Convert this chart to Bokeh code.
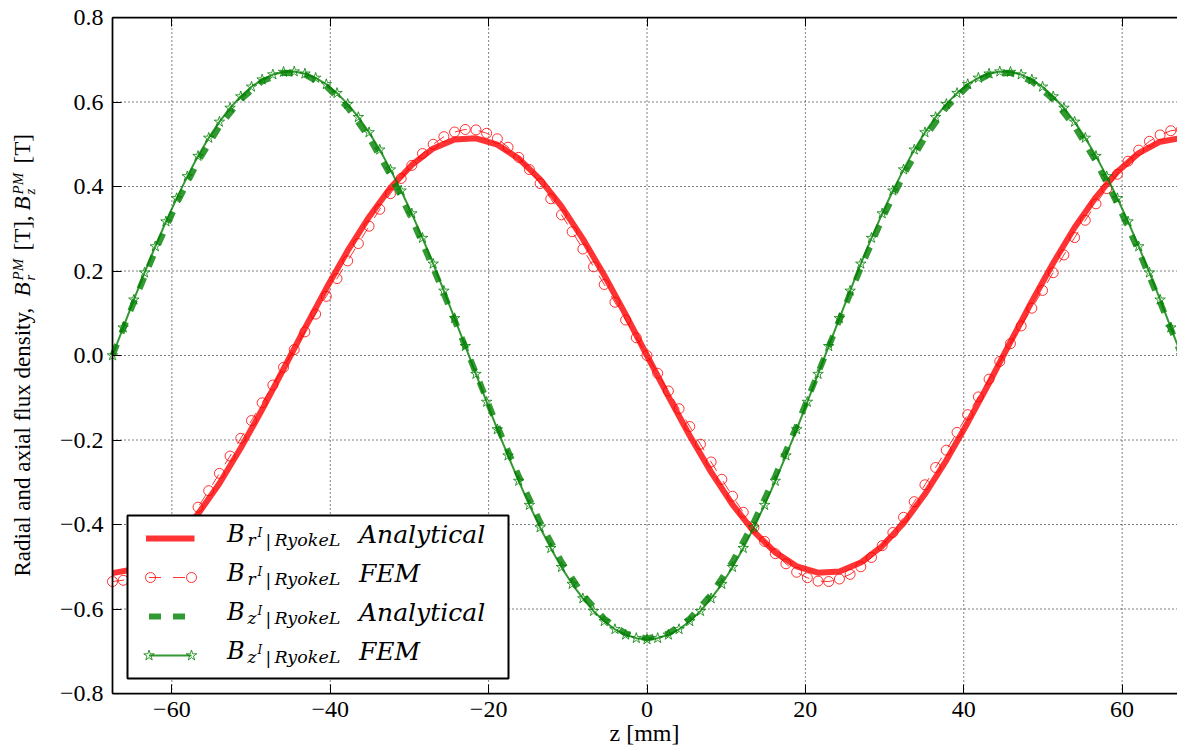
from bokeh.plotting import figure
from bokeh.models import Range1d, FixedTicker, Label, LinearAxis
from bokeh.embed import file_html
from bokeh.resources import INLINE

# ---------------- data ----------------
z_fem = [-67.5, -66.15, -64.8, -63.45, -62.1, -60.75, -59.4, -58.05, -56.7, -55.35,
         -54.0, -52.65, -51.3, -49.95, -48.6, -47.25, -45.9, -44.55, -43.2, -41.85,
         -40.5, -39.15, -37.8, -36.45, -35.1, -33.75, -32.4, -31.05, -29.7, -28.35,
         -27.0, -25.65, -24.3, -22.95, -21.6, -20.25, -18.9, -17.55, -16.2, -14.85,
         -13.5, -12.15, -10.8, -9.45, -8.1, -6.75, -5.4, -4.05, -2.7, -1.35,
         0.0, 1.35, 2.7, 4.05, 5.4, 6.75, 8.1, 9.45, 10.8, 12.15,
         13.5, 14.85, 16.2, 17.55, 18.9, 20.25, 21.6, 22.95, 24.3, 25.65,
         27.0, 28.35, 29.7, 31.05, 32.4, 33.75, 35.1, 36.45, 37.8, 39.15,
         40.5, 41.85, 43.2, 44.55, 45.9, 47.25, 48.6, 49.95, 51.3, 52.65,
         54.0, 55.35, 56.7, 58.05, 59.4, 60.75, 62.1, 63.45, 64.8, 66.15, 67.5]

br_fem = [-0.535, -0.532, -0.522, -0.507, -0.486, -0.460, -0.429, -0.395, -0.359, -0.320,
          -0.279, -0.238, -0.196, -0.154, -0.112, -0.070, -0.028, 0.014, 0.056, 0.098,
          0.140, 0.182, 0.224, 0.265, 0.306, 0.346, 0.383, 0.419, 0.450, 0.478,
          0.500, 0.518, 0.529, 0.535, 0.534, 0.526, 0.513, 0.493, 0.469, 0.440,
          0.407, 0.371, 0.333, 0.293, 0.252, 0.210, 0.168, 0.126, 0.084, 0.042,
          0.000, -0.042, -0.084, -0.126, -0.168, -0.210, -0.252, -0.293, -0.333, -0.371,
          -0.407, -0.440, -0.469, -0.493, -0.513, -0.526, -0.534, -0.535, -0.529, -0.518,
          -0.500, -0.478, -0.450, -0.419, -0.383, -0.346, -0.306, -0.265, -0.224, -0.182,
          -0.140, -0.098, -0.056, -0.014, 0.028, 0.070, 0.112, 0.154, 0.196, 0.238,
          0.279, 0.320, 0.359, 0.395, 0.429, 0.460, 0.486, 0.507, 0.522, 0.532, 0.535]

bz_fem = [0.000, 0.066, 0.132, 0.196, 0.258, 0.317, 0.372, 0.424, 0.472, 0.515,
          0.553, 0.586, 0.613, 0.636, 0.653, 0.665, 0.671, 0.672, 0.667, 0.657,
          0.642, 0.621, 0.595, 0.564, 0.528, 0.487, 0.440, 0.390, 0.336, 0.278,
          0.217, 0.153, 0.088, 0.022, -0.044, -0.110, -0.175, -0.237, -0.297, -0.354,
          -0.407, -0.456, -0.501, -0.541, -0.575, -0.605, -0.629, -0.648, -0.661, -0.669,
          -0.672, -0.669, -0.661, -0.648, -0.629, -0.605, -0.575, -0.541, -0.501, -0.456,
          -0.407, -0.354, -0.297, -0.237, -0.175, -0.110, -0.044, 0.022, 0.088, 0.153,
          0.217, 0.278, 0.336, 0.390, 0.440, 0.487, 0.528, 0.564, 0.595, 0.621,
          0.642, 0.657, 0.667, 0.672, 0.671, 0.665, 0.653, 0.636, 0.613, 0.586,
          0.553, 0.515, 0.472, 0.424, 0.372, 0.317, 0.258, 0.196, 0.132, 0.066, 0.000]

z_an = z_fem[::2]

br_an = [-0.515, -0.506, -0.479, -0.435, -0.375, -0.303, -0.219, -0.128, -0.032, 0.065,
         0.159, 0.248, 0.328, 0.397, 0.451, 0.490, 0.511, 0.514, 0.499, 0.466,
         0.417, 0.353, 0.276, 0.190, 0.097, 0.000, -0.097, -0.190, -0.276, -0.353,
         -0.417, -0.466, -0.499, -0.514, -0.511, -0.490, -0.451, -0.397, -0.328, -0.248,
         -0.159, -0.065, 0.032, 0.128, 0.219, 0.303, 0.375, 0.435, 0.479, 0.506, 0.515]

bz_an = [0.000, 0.126, 0.247, 0.359, 0.459, 0.542, 0.606, 0.649, 0.669, 0.665,
         0.637, 0.587, 0.516, 0.427, 0.323, 0.207, 0.084, -0.042, -0.167, -0.285,
         -0.394, -0.488, -0.566, -0.623, -0.658, -0.670, -0.658, -0.623, -0.566, -0.488,
         -0.394, -0.285, -0.167, -0.042, 0.084, 0.207, 0.323, 0.427, 0.516, 0.587,
         0.637, 0.665, 0.669, 0.649, 0.606, 0.542, 0.459, 0.359, 0.247, 0.126, 0.000]

x_lim = (-67.5, 67.5)
y_lim = (-0.8, 0.8)
x_ticks = [-60, -40, -20, 0, 20, 40, 60]
x_tick_labels = ["\u221260", "\u221240", "\u221220", "0", "20", "40", "60"]
y_ticks = [-0.8, -0.6, -0.4, -0.2, 0.0, 0.2, 0.4, 0.6, 0.8]
y_tick_labels = ["\u22120.8", "\u22120.6", "\u22120.4", "\u22120.2", "0.0", "0.2", "0.4", "0.6", "0.8"]

# ---------------- layout (page pixels) ----------------
W, H = 1177, 748
AL, AR, AT, AB = 112, 1181, 17, 693     # plot-area edges in page px (right edge is cropped)
kx = (AR - AL) / (x_lim[1] - x_lim[0])
ky = (AB - AT) / (y_lim[1] - y_lim[0])

p = figure(width=W, height=H, output_backend="svg", toolbar_location=None,
           x_range=Range1d(x_lim[0] - AL / kx, x_lim[0] + (W - AL) / kx),
           y_range=Range1d(y_lim[0] - (H - AB) / ky, y_lim[1] + AT / ky),
           x_axis_type=None, y_axis_type=None, min_border=0)
p.outline_line_color = None
p.background_fill_color = "white"
p.border_fill_color = "white"
p.xgrid.visible = False
p.ygrid.visible = False
p.extra_x_ranges = {"px": Range1d(0, W)}
p.extra_y_ranges = {"py": Range1d(H, 0)}

# dotted grid, limited to the plot area
p.segment(x0=x_ticks, x1=x_ticks, y0=[y_lim[0]] * len(x_ticks), y1=[y_lim[1]] * len(x_ticks),
          line_color="black", line_dash="1 3", line_width=1)
p.segment(x0=[x_lim[0]] * len(y_ticks), x1=[x_lim[1]] * len(y_ticks), y0=y_ticks, y1=y_ticks,
          line_color="black", line_dash="1 3", line_width=1)

TICK_FONT = "Liberation Serif"


def style_axis(ax, ticks, labels, show_labels=True):
    ax.ticker = FixedTicker(ticks=ticks)
    ax.major_label_overrides = dict(zip(ticks, labels))
    ax.major_tick_in = 9
    ax.major_tick_out = 0
    ax.minor_tick_line_color = None
    ax.axis_line_width = 1.75
    ax.axis_line_color = "black"
    ax.major_tick_line_color = "black"
    ax.major_tick_line_width = 1
    ax.major_label_text_font = TICK_FONT
    ax.major_label_text_font_size = "24px"
    ax.major_label_text_color = "black"
    if not show_labels:
        ax.major_label_text_alpha = 0


xaxis = LinearAxis(fixed_location=y_lim[0], bounds=x_lim, major_label_standoff=8)
style_axis(xaxis, x_ticks, x_tick_labels)
p.add_layout(xaxis, "below")

topaxis = LinearAxis(fixed_location=y_lim[1], bounds=x_lim)
style_axis(topaxis, x_ticks, x_tick_labels, show_labels=False)
p.add_layout(topaxis, "above")

yaxis = LinearAxis(fixed_location=x_lim[0], bounds=y_lim, major_label_standoff=9)
style_axis(yaxis, y_ticks, y_tick_labels)
p.add_layout(yaxis, "left")

RED, GREEN = "red", "green"

# ---------------- series ----------------
p.line(z_an, br_an, line_color=RED, line_alpha=0.8, line_width=6, line_join="round")
p.line(z_fem, br_fem, line_color=RED, line_alpha=0.8, line_width=1, line_dash="12 12")
p.scatter(z_fem, br_fem, marker="circle", size=10, fill_color=None,
          line_color=RED, line_alpha=0.8, line_width=1)
p.line(z_an, bz_an, line_color=GREEN, line_alpha=0.8, line_width=6, line_dash="12 12")
p.line(z_fem, bz_fem, line_color=GREEN, line_alpha=0.8, line_width=2)
p.scatter(z_fem, bz_fem, marker="star", size=11, fill_color=None,
          line_color=GREEN, line_alpha=0.8, line_width=1)

# ---------------- legend (page-pixel coordinates) ----------------
PXR = dict(x_range_name="px", y_range_name="py")
p.quad(left=127, right=508, top=515, bottom=678, fill_color="white",
       line_color="black", line_width=2, **PXR)

rows = [538, 577, 616, 655]
h0, h1 = 148.5, 191
p.line([h0, h1], [rows[0]] * 2, line_color=RED, line_alpha=0.8, line_width=6,
       line_cap="square", **PXR)
p.line([h0, h1], [rows[1]] * 2, line_color=RED, line_alpha=0.8, line_width=1,
       line_dash="12 12", **PXR)
p.scatter([h0 + 1.5, h1], [rows[1]] * 2, marker="circle", size=10, fill_color=None,
          line_color=RED, line_alpha=0.8, **PXR)
p.line([h0, h1], [rows[2]] * 2, line_color=GREEN, line_alpha=0.8, line_width=6,
       line_dash="12 12", **PXR)
p.line([h0, h1], [rows[3]] * 2, line_color=GREEN, line_alpha=0.8, line_width=2, **PXR)
p.scatter([h0, h1], [rows[3]] * 2, marker="star", size=11, fill_color=None,
          line_color=GREEN, line_alpha=0.8, **PXR)

BASE_SHIFT = 0.38   # measured offset of the rendered baseline, in em


def put(text, px, py, size, font="Liberation Serif", style="normal", angle=0):
    # (px, py): wanted left end of the baseline, in page pixels
    if angle == 90:
        px = px - BASE_SHIFT * size
    else:
        py = py - BASE_SHIFT * size
    p.add_layout(Label(x=px, y=H - py, x_units="screen", y_units="screen",
                       text=text, text_font=font, text_font_style=style,
                       text_font_size=f"{size}px", text_color="black",
                       text_align="left", text_baseline="alphabetic",
                       angle=angle, angle_units="deg"))


MATH = "DejaVu Serif"
legend_texts = [("r", "Analytical"), ("r", "FEM"), ("z", "Analytical"), ("z", "FEM")]
for (comp, kind), row in zip(legend_texts, rows):
    base = row + 5
    put("B", 226.5, base, 24, MATH, "italic")
    put(comp, 247, base + 3, 17, MATH, "italic")
    put("I", 257, base - 6, 12, MATH, "italic")
    put("|", 265, base + 4, 17, MATH, "normal")
    put("RyokeL", 274, base + 3, 17.5, MATH, "italic")
    put(kind, 358.5, base, 25, MATH, "italic")

# ---------------- axis labels ----------------
put("z [mm]", 609, 742, 24)

YX = 31
put("Radial and axial flux density,", YX, 576, 23, angle=90)
put("B", YX, 296, 23, "Liberation Serif", "italic", angle=90)
put("r", YX + 4, 280, 15, "Liberation Serif", "italic", angle=90)
put("PM", YX - 8, 280, 15, "Liberation Serif", "italic", angle=90)
put("[T],", YX, 250, 23, angle=90)
put("B", YX, 210, 23, "Liberation Serif", "italic", angle=90)
put("z", YX + 4, 194, 15, "Liberation Serif", "italic", angle=90)
put("PM", YX - 8, 194, 15, "Liberation Serif", "italic", angle=90)
put("[T]", YX, 163, 23, angle=90)

open("out.html", "w").write(file_html(p, INLINE))
